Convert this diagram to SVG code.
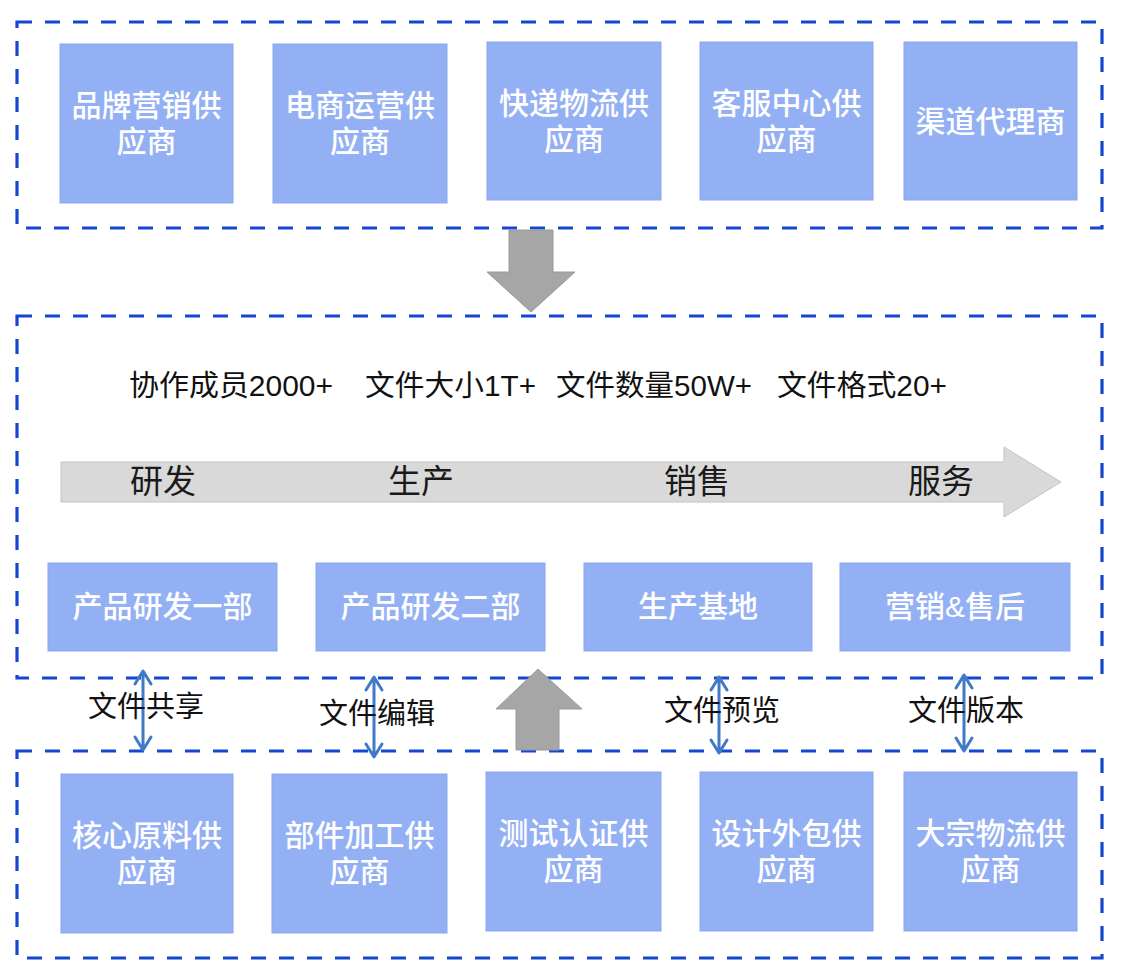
<svg xmlns="http://www.w3.org/2000/svg" width="1122" height="974" viewBox="0 0 1122 974">
<defs>
<style>
.frame{fill:none;stroke:#1446cf;stroke-width:3.2;stroke-dasharray:15 13}
.node{fill:#94b0f5;stroke:#8aa6ec;stroke-width:1}
.nt{font-family:"Liberation Sans","Noto Sans CJK SC",sans-serif;font-size:30px;fill:#ffffff;font-weight:500;text-anchor:middle}
.stage{font-family:"Liberation Sans","Noto Sans CJK SC",sans-serif;font-size:33px;fill:#1a1a1a;text-anchor:middle}
.lbl{font-family:"Liberation Sans","Noto Sans CJK SC",sans-serif;font-size:29px;fill:#111111}
.stat{font-family:"Liberation Sans","Noto Sans CJK SC",sans-serif;font-size:29px;fill:#111111}
.big{fill:#a6a6a6;stroke:#9a9a9a;stroke-width:1}
.dbl{fill:none;stroke:#3f7ac8;stroke-width:3;stroke-linecap:round;stroke-linejoin:round}
</style>
</defs>
<rect width="1122" height="974" fill="#ffffff"/>

<g id="frames">
<rect class="frame" x="17" y="22" width="1085" height="206"/>
<rect class="frame" x="17" y="316" width="1085" height="362"/>
<rect class="frame" x="17" y="751" width="1085" height="207"/>
</g>

<g id="top-nodes">
<g id="n-brand"><rect class="node" x="60" y="44" width="173" height="159"/><text class="nt" x="146.5" y="116">品牌营销供</text><text class="nt" x="146.5" y="152">应商</text></g>
<g id="n-ecom"><rect class="node" x="273" y="44" width="174" height="159"/><text class="nt" x="360" y="116">电商运营供</text><text class="nt" x="360" y="152">应商</text></g>
<g id="n-express"><rect class="node" x="487" y="42" width="174" height="158"/><text class="nt" x="574" y="114">快递物流供</text><text class="nt" x="574" y="150">应商</text></g>
<g id="n-cs"><rect class="node" x="700" y="42" width="173" height="158"/><text class="nt" x="786.5" y="114">客服中心供</text><text class="nt" x="786.5" y="150">应商</text></g>
<g id="n-channel"><rect class="node" x="904" y="42" width="173" height="158"/><text class="nt" x="990.5" y="132">渠道代理商</text></g>
</g>

<g id="down-arrow"><polygon class="big" points="509,230 553,230 553,272 575,272 531,312 487,272 509,272"/></g>

<g id="stats">
<text class="stat" x="129" y="396" textLength="204" lengthAdjust="spacingAndGlyphs">协作成员2000+</text>
<text class="stat" x="365" y="396" textLength="171" lengthAdjust="spacingAndGlyphs">文件大小1T+</text>
<text class="stat" x="556" y="396" textLength="196" lengthAdjust="spacingAndGlyphs">文件数量50W+</text>
<text class="stat" x="777" y="396" textLength="170" lengthAdjust="spacingAndGlyphs">文件格式20+</text>
</g>

<g id="flow-arrow">
<polygon points="61,462 1004,462 1004,447 1061,482 1004,517 1004,502 61,502" fill="#d9d9d9" stroke="#c4c4c4" stroke-width="1"/>
<text class="stage" x="163" y="493">研发</text>
<text class="stage" x="421" y="493">生产</text>
<text class="stage" x="697" y="493">销售</text>
<text class="stage" x="941" y="493">服务</text>
</g>

<g id="mid-nodes">
<g id="n-rd1"><rect class="node" x="48" y="563" width="229" height="88"/><text class="nt" x="162.5" y="617">产品研发一部</text></g>
<g id="n-rd2"><rect class="node" x="316" y="563" width="229" height="88"/><text class="nt" x="430.5" y="617">产品研发二部</text></g>
<g id="n-prod"><rect class="node" x="584" y="563" width="228" height="88"/><text class="nt" x="698" y="617">生产基地</text></g>
<g id="n-sales"><rect class="node" x="840" y="563" width="230" height="88"/><text class="nt" x="955" y="617">营销&amp;售后</text></g>
</g>

<g id="up-arrow"><polygon class="big" points="538,669 582,709 559,709 559,750 516,750 516,709 496,709"/></g>

<g id="connectors">
<path class="dbl" d="M143,672 V749 M135,684 L143,671 L151,684 M135,737 L143,750 L151,737"/>
<path class="dbl" d="M374,678 V756 M366,690 L374,677 L382,690 M366,744 L374,757 L382,744"/>
<path class="dbl" d="M719,678 V752 M711,690 L719,677 L727,690 M711,740 L719,753 L727,740"/>
<path class="dbl" d="M964,676 V750 M956,688 L964,675 L972,688 M956,738 L964,751 L972,738"/>
</g>

<g id="conn-labels">
<text class="lbl" x="88" y="717">文件共享</text>
<text class="lbl" x="319" y="724">文件编辑</text>
<text class="lbl" x="664" y="721">文件预览</text>
<text class="lbl" x="908" y="721">文件版本</text>
</g>

<g id="bottom-nodes">
<g id="n-raw"><rect class="node" x="61" y="774" width="172" height="159"/><text class="nt" x="147" y="846">核心原料供</text><text class="nt" x="147" y="882">应商</text></g>
<g id="n-parts"><rect class="node" x="272" y="774" width="175" height="159"/><text class="nt" x="359.5" y="846">部件加工供</text><text class="nt" x="359.5" y="882">应商</text></g>
<g id="n-test"><rect class="node" x="486" y="772" width="175" height="159"/><text class="nt" x="573.5" y="844">测试认证供</text><text class="nt" x="573.5" y="880">应商</text></g>
<g id="n-design"><rect class="node" x="700" y="772" width="173" height="159"/><text class="nt" x="786.5" y="844">设计外包供</text><text class="nt" x="786.5" y="880">应商</text></g>
<g id="n-bulk"><rect class="node" x="904" y="772" width="173" height="159"/><text class="nt" x="990.5" y="844">大宗物流供</text><text class="nt" x="990.5" y="880">应商</text></g>
</g>
</svg>
